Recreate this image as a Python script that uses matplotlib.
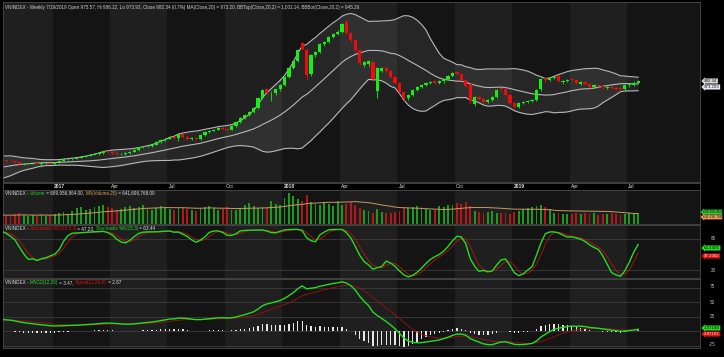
import numpy as np
import pandas as pd
import matplotlib
matplotlib.use("Agg")
import matplotlib.pyplot as plt

plt.rcParams['font.family'] = ['Liberation Sans', 'DejaVu Sans']

# weekly VNINDEX. 26 warm-up weeks first (left of the view) so BB/MACD/Stoch start filled
first_week = '2016-04-22'
warm_open = [585, 591, 588, 596, 600, 608, 615, 620, 626, 622,
             628, 636, 645, 651, 648, 655, 662, 668, 672, 666,
             670, 678, 670, 675, 682, 686]
warm_high = [594, 594, 598, 603, 611, 618, 624, 628, 628, 631,
             639, 648, 654, 653, 658, 665, 671, 676, 674, 673,
             681, 680, 678, 685, 688, 689]
warm_low = [582, 585, 586, 593, 598, 605, 612, 617, 619, 620,
            626, 633, 642, 645, 645, 652, 659, 665, 663, 663,
            668, 667, 668, 672, 679, 681]
warm_close = [590, 588, 595, 600, 608, 615, 620, 625, 622, 628,
              636, 645, 650, 648, 655, 662, 668, 672, 666, 670,
              678, 670, 675, 682, 686, 684]
warm_volume = [450, 520, 480, 500, 560, 620, 580, 540, 500, 470,
               520, 600, 640, 560, 520, 580, 620, 560, 500, 480,
               520, 560, 540, 600, 580, 560]

# shown weeks: 2016-10-21 .. 2019-07-19
opens = [686, 682, 680, 676, 668, 671, 673, 675, 670, 673,
         675, 671, 676, 682, 688, 688, 690, 693, 697, 700,
         704, 707, 711, 718, 714, 711, 706, 707, 711, 716,
         722, 732, 736, 738, 742, 752, 760, 765, 772, 766,
         782, 772, 765, 768, 764, 778, 790, 795, 799, 806,
         802, 799, 812, 826, 843, 854, 866, 880, 918, 952,
         936, 938, 950, 967, 997, 1030, 1057, 1124, 1100, 1010,
         1078, 1091, 1122, 1128, 1147, 1160, 1168, 1204, 1162, 1136,
         1099, 1042, 1046, 1054, 945, 1020, 1030, 1020, 997, 975,
         941, 918, 929, 948, 959, 967, 974, 982, 976, 980,
         990, 1001, 1016, 1010, 986, 970, 895, 922, 915, 903,
         911, 922, 956, 950, 929, 899, 884, 899, 903, 907,
         912, 950, 994, 984, 993, 1001, 978, 982, 988, 984,
         972, 977, 972, 960, 968, 964, 956, 960, 957, 956,
         952, 965, 968, 975.57]
highs = [689, 685, 682, 678, 673, 675, 678, 677, 675, 676,
         677, 678, 685, 691, 692, 693, 696, 700, 703, 707,
         710, 714, 720, 721, 717, 714, 710, 714, 719, 725,
         735, 739, 741, 745, 755, 763, 768, 775, 775, 785,
         786, 775, 771, 771, 781, 793, 798, 802, 809, 810,
         805, 815, 829, 846, 857, 869, 884, 922, 952, 956,
         946, 953, 970, 1001, 1034, 1061, 1104, 1130, 1106, 1083,
         1095, 1126, 1133, 1151, 1164, 1172, 1199, 1211, 1168, 1141,
         1104, 1058, 1062, 1058, 1036, 1036, 1034, 1024, 1001, 979,
         945, 933, 952, 962, 971, 978, 982, 986, 984, 994,
         1005, 1016, 1020, 1013, 990, 974, 926, 926, 918, 915,
         926, 952, 960, 954, 933, 903, 903, 907, 911, 915,
         952, 994, 998, 997, 1001, 1004, 986, 990, 992, 988,
         981, 981, 976, 971, 972, 968, 962, 964, 961, 960,
         969, 976, 980, 986.12]
lows = [679, 678, 674, 665, 666, 669, 671, 668, 658, 670,
        668, 669, 674, 680, 685, 686, 688, 691, 695, 698,
        702, 705, 709, 711, 708, 703, 702, 704, 709, 714,
        720, 730, 734, 735, 740, 750, 757, 762, 762, 758,
        769, 760, 761, 760, 761, 776, 787, 792, 797, 799,
        795, 797, 810, 824, 840, 851, 863, 877, 915, 933,
        905, 930, 946, 964, 993, 1026, 1054, 1098, 985, 1000,
        1072, 1087, 1115, 1124, 1143, 1156, 1164, 1158, 1130, 1090,
        1042, 1035, 1040, 982, 918, 1014, 1015, 992, 970, 935,
        905, 912, 925, 944, 955, 963, 970, 972, 972, 976,
        986, 998, 1005, 982, 958, 898, 888, 910, 898, 900,
        908, 918, 945, 924, 894, 878, 880, 895, 899, 903,
        908, 946, 979, 980, 989, 978, 972, 978, 980, 970,
        968, 968, 955, 956, 960, 953, 950, 951, 948, 946,
        948, 961, 964, 973.93]
closes = [682, 680, 676, 668, 671, 673, 675, 671, 673, 674,
          671, 676, 682, 688, 689, 690, 693, 697, 700, 704,
          707, 711, 717, 714, 711, 706, 707, 711, 716, 722,
          732, 736, 738, 742, 752, 760, 765, 772, 766, 782,
          772, 765, 768, 764, 778, 790, 795, 799, 806, 802,
          799, 812, 826, 843, 854, 866, 880, 918, 948, 938,
          938, 950, 967, 997, 1030, 1057, 1100, 1104, 1005, 1078,
          1091, 1122, 1128, 1147, 1160, 1168, 1195, 1162, 1136, 1099,
          1050, 1052, 1056, 990, 1031, 1030, 1020, 997, 975, 941,
          918, 929, 948, 959, 967, 974, 978, 976, 980, 990,
          1001, 1012, 1010, 986, 963, 905, 922, 915, 903, 911,
          922, 948, 950, 929, 899, 884, 899, 903, 907, 911,
          948, 990, 984, 993, 997, 982, 982, 986, 984, 974,
          977, 972, 959, 967, 964, 958, 958, 955, 952, 950,
          965, 972, 976, 982.34]
# volume, million shares
volumes = [520, 480, 600, 650, 560, 500, 540, 470, 610, 520,
           560, 600, 700, 760, 640, 820, 980, 1050, 880, 950,
           1020, 1100, 1150, 1020, 980, 860, 900, 1050, 1120, 980,
           1080, 1150, 940, 880, 1000, 1120, 1060, 930, 850, 1000,
           960, 900, 870, 820, 1000, 1080, 1100, 980, 860, 940,
           1020, 880, 860, 1000, 1180, 1300, 1120, 960, 1050, 1020,
           1450, 1250, 1150, 1600, 1900, 1700, 1550, 1400, 1800, 1380,
           1250, 1200, 1300, 1250, 1100, 1400, 1150, 1250, 1350, 1200,
           1000, 850, 780, 700, 900, 720, 650, 700, 760, 820,
           1000, 980, 1050, 1100, 1000, 950, 880, 860, 1100, 1050,
           1200, 1150, 1300, 1250, 1350, 1100, 800, 750, 700, 720,
           780, 650, 700, 680, 620, 720, 800, 900, 1000, 1050,
           1100, 1200, 1050, 950, 700, 680, 640, 620, 600, 650,
           620, 660, 600, 650, 580, 640, 610, 660, 620, 580,
           640, 700, 680, 689.96]

o = np.array(warm_open + opens, float)
h = np.array(warm_high + highs, float)
l = np.array(warm_low + lows, float)
c = np.array(warm_close + closes, float)
v = np.array(warm_volume + volumes, float)
n_warm = len(warm_close)
dates = pd.date_range(first_week, periods=len(c), freq='W-FRI')
x = np.arange(len(c)) - n_warm
up = c >= o

# indicators
close = pd.Series(c)
ma20 = close.rolling(20).mean()
sd20 = close.rolling(20).std(ddof=0)
bb_top = ma20 + 2 * sd20
bb_bot = ma20 - 2 * sd20
vol_ma = pd.Series(v).rolling(20).mean()
ll = pd.Series(l).rolling(15).min()
hh = pd.Series(h).rolling(15).max()
stoch_k = (100 * (close - ll) / (hh - ll)).rolling(3).mean()
stoch_d = stoch_k.rolling(3).mean()
macd = close.ewm(span=12, adjust=False).mean() - close.ewm(span=26, adjust=False).mean()
signal = macd.ewm(span=9, adjust=False).mean()
hist = macd - signal

# ---- layout in pixels of the 724x357 picture
W, H = 724, 357
fig = plt.figure(figsize=(W / 100, H / 100), dpi=100, facecolor='black')


def box(top, bottom):
    return [3 / W, 1 - bottom / H, 697 / W, (bottom - top) / H]


ax_p = fig.add_axes(box(2, 182))
ax_d = fig.add_axes(box(183, 190))
ax_v = fig.add_axes(box(190, 224))
ax_s = fig.add_axes(box(225, 278))
ax_m = fig.add_axes(box(279, 348))
panels = [ax_p, ax_v, ax_s, ax_m]

x_lo, x_hi = -0.7, 157.0
q = dates.to_period('Q')
starts = [i for i in range(n_warm + 1, len(c)) if q[i] != q[i - 1]]
edges = [x_lo] + [x[i] - 0.5 for i in starts] + [x_hi]

for ax in panels + [ax_d]:
    ax.set_xlim(x_lo, x_hi)
    ax.set_xticks([])
    ax.set_yticks([])
    for s in ax.spines.values():
        s.set_color('#4a4a4a')
        s.set_linewidth(0.6)

for ax in panels:
    ax.set_facecolor('#1a1a1a')
    for k in range(len(edges) - 1):
        ax.axvspan(edges[k], edges[k + 1], color='#1f1f1f' if k % 2 == 0 else '#141414',
                   lw=0, zorder=0)

# date strip
ax_d.set_facecolor('black')
ax_d.set_ylim(0, 1)
for i in starts:
    d = dates[i]
    lab = str(d.year) if d.quarter == 1 else d.strftime('%b')
    ax_d.text(x[i] - 0.2, 0.45, lab, color='#dddddd', fontsize=3.6, va='center',
              ha='left', fontweight='bold' if d.quarter == 1 else 'normal')

# ---- price with Bollinger bands
green, red = '#14f014', '#f00a0a'
ax_p.set_ylim(602, 1279)
ax_p.fill_between(x, bb_bot, bb_top, color='white', alpha=0.08, lw=0, zorder=1)
ax_p.plot(x, bb_top, color='#b8b8b8', lw=0.8, zorder=2)
ax_p.plot(x, bb_bot, color='#b8b8b8', lw=0.8, zorder=2)
ax_p.plot(x, ma20, color='#b8b8b8', lw=0.8, zorder=2)
cols = np.where(up, green, red)
ax_p.vlines(x, l, h, colors=cols, lw=0.6, zorder=3)
body = np.maximum(np.abs(c - o), 2.0)
ax_p.bar(x, body, bottom=np.minimum(o, c), width=0.72, color=cols, lw=0, zorder=4)

# ---- volume
ax_v.set_ylim(0, 2100)
ax_v.bar(x, v, width=0.42, color=np.where(up, '#1c9a1c', '#b31818'), lw=0, zorder=2)
ax_v.plot(x, vol_ma, color='#c89a62', lw=0.7, zorder=3)

# ---- stochastic
ax_s.set_ylim(4.5, 107)
for lev in (20, 80):
    ax_s.axhline(lev, color='#3c3c3c', lw=0.6, zorder=1)
ax_s.plot(x, stoch_d, color='#c01010', lw=0.6, zorder=2)
ax_s.plot(x, stoch_k, color='#22dd22', lw=1.0, zorder=3)

# ---- MACD
ax_m.set_ylim(-29.3, 89.7)
for lev in (-25, 0, 25, 50, 75):
    ax_m.axhline(lev, color='#3c3c3c', lw=0.6, zorder=1)
ax_m.bar(x, hist, width=0.3, color='#e6e6e6', lw=0, zorder=2)
ax_m.plot(x, signal, color='#a01010', lw=0.6, zorder=3)
ax_m.plot(x, macd, color='#22dd22', lw=1.0, zorder=4)

# ---- title lines, several colours on one line
fig.canvas.draw()
rend = fig.canvas.get_renderer()


def title_line(ax, parts, size=3.3):
    xa = 0.003
    for s, col in parts:
        t = ax.text(xa, 0.985, s, color=col, fontsize=size, transform=ax.transAxes,
                    va='top', ha='left', zorder=10)
        bb = t.get_window_extent(renderer=rend)
        xa = ax.transAxes.inverted().transform((bb.x1, bb.y0))[0]


wt = '#e0e0e0'
title_line(ax_p, [("VNINDEX - Weekly 7/19/2019 Open 975.57, Hi 986.12, Lo 973.93, Close 982.34 (0.7%) "
                   "MA(Close,20) = 973.20, BBTop(Close,20,2) = 1,001.14, BBBot(Close,20,2) = 945.26", '#cfcfcf')])
title_line(ax_v, [("VNINDEX - ", wt), ("Volume", '#22cc22'), (" = 689,956,864.00, ", wt),
                  ("MA(Volume,20)", '#e0a050'), (" = 641,696,768.00", wt)])
title_line(ax_s, [("VNINDEX - ", wt), ("Stochastic %D(15,3,3)", '#e01010'), (" = 47.23, ", wt),
                  ("Stochastic %K(15,3)", '#22dd22'), (" = 63.44", wt)])
title_line(ax_m, [("VNINDEX - ", wt), ("MACD(12,26)", '#22dd22'), (" = 3.47, ", wt),
                  ("Signal(12,26,9)", '#e01010'), (" = 2.87", wt)])


# ---- right side scale texts and value tags
def ptxt(xp, yp, s, col='#bbbbbb', fc=None, tc='#111111', size=3.2):
    if fc is None:
        fig.text(xp / W, 1 - yp / H, s, color=col, fontsize=3.3, va='center', ha='left')
    else:
        fig.text(xp / W, 1 - yp / H, s, color=tc, fontsize=size, va='center', ha='left',
                 bbox=dict(boxstyle='larrow,pad=0.12', fc=fc, ec='none'))


ptxt(704, 81, "982.34", fc='#d8d8d8')
ptxt(704, 87, "973.203", fc='#e8e8f4')
ptxt(703, 212, "689 956 864", fc='#2ccc2c', size=2.4)
ptxt(703, 217, "641 696 768", fc='#e8a050', size=2.4)
ptxt(711, 239, "80")
ptxt(711, 270, "20")
ptxt(704, 248, "63.4405", fc='#22e022')
ptxt(704, 256, "47.2302", fc='#e01010', tc='#ffdddd')
for lev, yp in ((75, 287), (50, 302), (25, 316), (-25, 344)):
    ptxt(710 if lev > 0 else 709, yp, str(lev))
ptxt(704, 328, "3.47188", fc='#22e022')
ptxt(704, 334, "2.87101", fc='#e01010', tc='#ffdddd')

fig.savefig('out.png', dpi=100, facecolor='black')
